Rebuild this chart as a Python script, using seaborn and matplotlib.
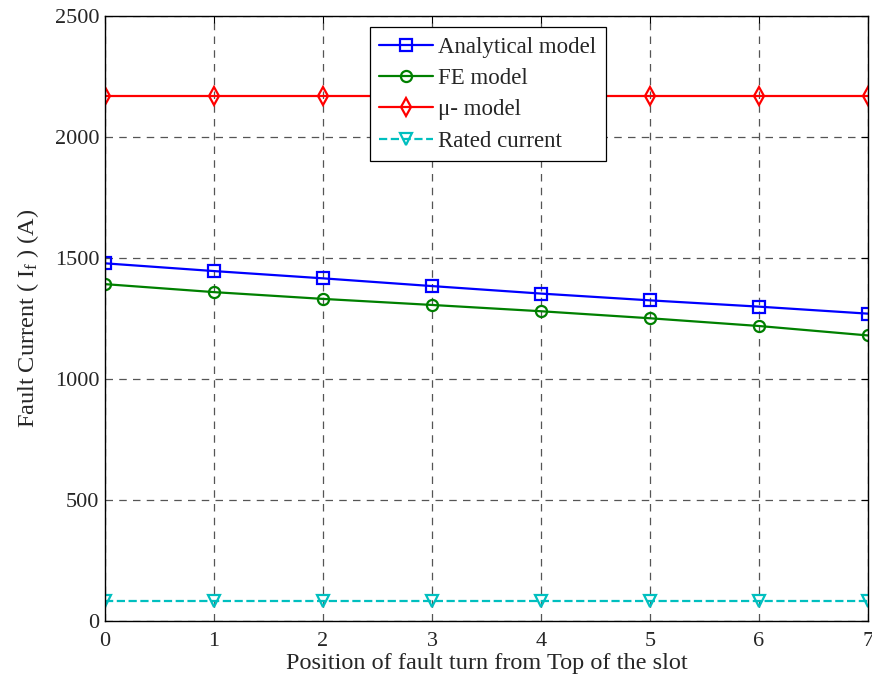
import numpy as np
import pandas as pd
import matplotlib
matplotlib.use("Agg")
import matplotlib.pyplot as plt
import seaborn as sns

positions = [0, 1, 2, 3, 4, 5, 6, 7]
analytical = [1478, 1446, 1416, 1384, 1353, 1325, 1299, 1270]
fe_model = [1392, 1359, 1331, 1306, 1280, 1251, 1219, 1180]
mu_model = [2169, 2169, 2169, 2169, 2169, 2169, 2169, 2169]
rated = [83, 83, 83, 83, 83, 83, 83, 83]
series_names = ["Analytical model", "FE model", "\u03bc- model", "Rated current"]
y_ticks = [0, 500, 1000, 1500, 2000, 2500]

sns.set_theme(style="white")
plt.rcParams['font.family'] = ['Liberation Serif', 'DejaVu Serif']
plt.rcParams['mathtext.fontset'] = 'custom'
plt.rcParams['mathtext.rm'] = 'Liberation Serif'
plt.rcParams['mathtext.it'] = 'Liberation Serif'

fig = plt.figure(figsize=(8.72, 6.81), dpi=100)
ax = fig.add_axes([0.1204, 0.0881, 0.8750, 0.8884])

styles = [
    (analytical, (0, 0, 1), 's', '-', 8),
    (fe_model, (0, 0.5, 0), 'o', '-', 8),
    (mu_model, (1, 0, 0), 'd', '-', 9),
    (rated, (0, 0.75, 0.75), 'v', '--', 8),
]
for name, (vals, col, mk, ls, ms) in zip(series_names, styles):
    df = pd.DataFrame({"x": positions, "y": vals})
    sns.lineplot(data=df, x="x", y="y", ax=ax, color=col, marker=mk, linestyle=ls,
                 linewidth=1.6, markersize=ms, markerfacecolor='none',
                 markeredgecolor=col, markeredgewidth=1.6, label=name)

ax.set_xlim(0, 7)
ax.set_ylim(0, 2500)
ax.set_xticks(positions)
ax.set_yticks(y_ticks)
ax.grid(True, color='#555555', linestyle=(0, (6, 5)), linewidth=0.9)
ax.tick_params(direction='in', top=True, right=True, length=5, labelsize=16,
               color='black', width=0.8)
ax.tick_params(axis='x', pad=8)
ax.tick_params(axis='y', pad=4)
for s in ax.spines.values():
    s.set_color('black')
    s.set_linewidth(1.0)
ax.set_xlabel("Position of fault turn from Top of the slot", fontsize=17.5, labelpad=1)
ax.set_ylabel(r"Fault Current ( I$_\mathrm{f}$ ) (A)", fontsize=17.5, labelpad=10)

leg = ax.legend(loc='upper left', bbox_to_anchor=(0.347, 0.981), fontsize=16.5,
                frameon=True, fancybox=False, edgecolor='black', framealpha=1,
                handlelength=2.35, borderpad=0.4, labelspacing=0.45, handletextpad=0.25,
                borderaxespad=0)
leg.get_frame().set_linewidth(0.9)

fig.savefig("out.png", dpi=100)
